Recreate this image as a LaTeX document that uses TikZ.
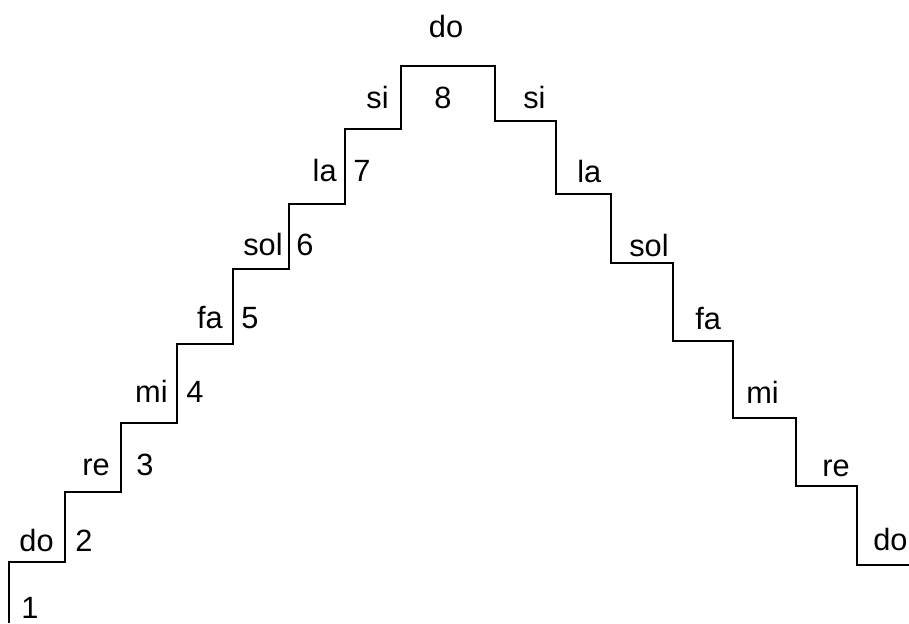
\documentclass[tikz,border=0pt]{standalone}
\usepackage{fontspec}
\setmainfont{Liberation Sans}
\usepackage{tikz}
\tikzset{
  stair/.style={line width=1.1pt},
  notel/.style={anchor=base east, inner sep=0pt, font=\fontsize{17.5}{21}\selectfont},
  noter/.style={anchor=base west, inner sep=0pt, font=\fontsize{17.5}{21}\selectfont},
  stepnum/.style={anchor=base west, inner sep=0pt, font=\fontsize{17.5}{21}\selectfont}
}

\begin{document}
\begin{tikzpicture}[x=0.02cm, y=-0.02cm]
		%%%%% START %%%%%
		\useasboundingbox (0, 0) rectangle (909, 623);
		
		\draw[stair] (9, 623) -- (9, 562) -- (65, 562) -- (65, 492) -- (121, 492) -- (121, 423)
		  -- (177, 423) -- (177, 344) -- (233, 344) -- (233, 269) -- (289, 269) -- (289, 204)
		  -- (345, 204) -- (345, 129) -- (401, 129) -- (401, 66) -- (495, 66) -- (495, 121)
		  -- (556, 121) -- (556, 194) -- (611, 194) -- (611, 263) -- (673, 263) -- (673, 341)
		  -- (733, 341) -- (733, 418) -- (796, 418) -- (796, 486) -- (857, 486) -- (857, 565)
		  -- (909, 565);
		
		\node[notel] (updo) at (54, 551) {do};
		\node[notel] (upre) at (110, 475) {re};
		\node[notel] (upmi) at (168, 402) {mi};
		\node[notel] (upfa) at (223, 328) {fa};
		\node[notel] (upsol) at (283, 255) {sol};
		\node[notel] (upla) at (337, 181) {la};
		\node[notel] (upsi) at (389, 108) {si};
		
		\node[stepnum] (one) at (21, 618) {1};
		\node[stepnum] (two) at (75, 551) {2};
		\node[stepnum] (three) at (136, 475) {3};
		\node[stepnum] (four) at (186, 402) {4};
		\node[stepnum] (five) at (241, 328) {5};
		\node[stepnum] (six) at (296, 255) {6};
		\node[stepnum] (seven) at (353, 181) {7};
		\node[stepnum, anchor=base] (eight) at (443, 108) {8};
		
		\node[notel, anchor=base] (topdo) at (446, 37) {do};
		
		\node[noter] (downsi) at (523, 108) {si};
		\node[noter] (downla) at (577, 182) {la};
		\node[noter] (downsol) at (629, 256) {sol};
		\node[noter] (downfa) at (695, 329) {fa};
		\node[noter] (downmi) at (746, 403) {mi};
		\node[noter] (downre) at (822, 476) {re};
		\node[noter] (downdo) at (873, 550) {do};
		
		%%%%% END %%%%%
	\end{tikzpicture}
\end{document}
